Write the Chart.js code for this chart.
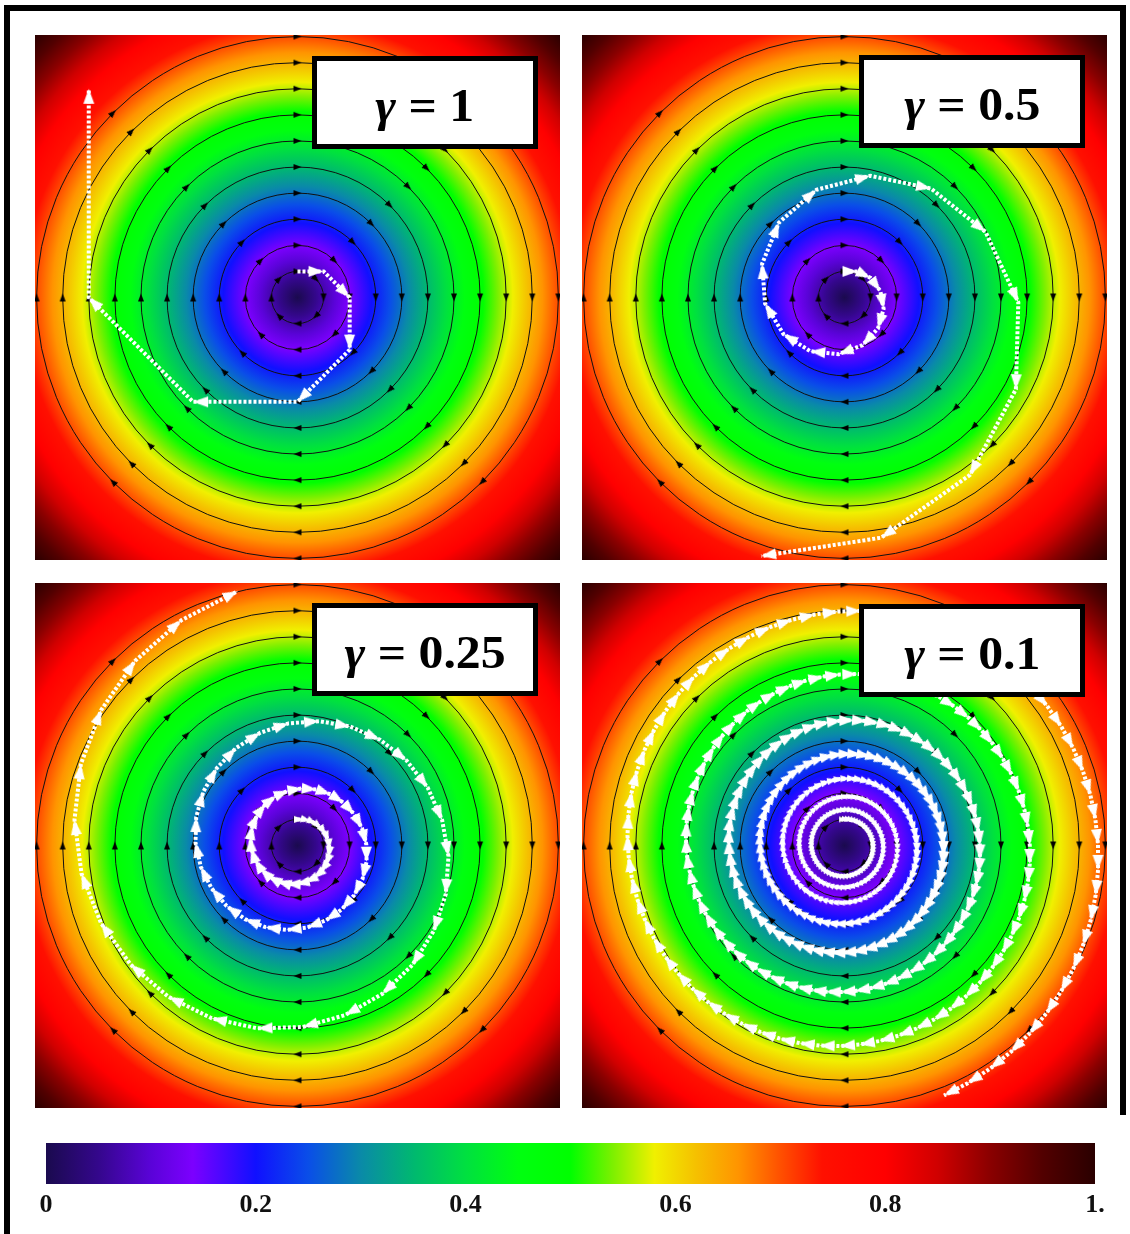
<!DOCTYPE html>
<html>
<head>
<meta charset="utf-8">
<script src="https://cdn.jsdelivr.net/npm/chart.js@4.4.1/dist/chart.umd.min.js"></script>
<style>
html,body{margin:0;padding:0;background:#fff;}
body{width:1130px;height:1234px;position:relative;overflow:hidden;}
.bar{position:absolute;background:#000;}
canvas.panel{position:absolute;}
#cb{position:absolute;left:0;top:1130px;}
.lbl{position:absolute;box-sizing:border-box;width:226px;height:93px;border:5px solid #000;background:#fff;
  display:flex;align-items:center;justify-content:center;padding-top:4px;
  font:bold 47px "Liberation Serif","Times New Roman",serif;color:#000;white-space:nowrap;}
.lbl .t{display:inline-block;transform:scaleX(1.06);}
</style>
</head>
<body>
<div class="bar" style="left:4px;top:5px;width:1122px;height:6px"></div>
<div class="bar" style="left:4px;top:5px;width:6px;height:1229px"></div>
<div class="bar" style="left:1120px;top:5px;width:6px;height:1110px"></div>

<canvas id="p1" class="panel" width="525" height="525" style="left:35px;top:35px"></canvas>
<canvas id="p2" class="panel" width="525" height="525" style="left:582px;top:35px"></canvas>
<canvas id="p3" class="panel" width="525" height="525" style="left:35px;top:583px"></canvas>
<canvas id="p4" class="panel" width="525" height="525" style="left:582px;top:583px"></canvas>
<canvas id="cb" width="1130" height="90"></canvas>

<div class="lbl" style="left:312px;top:56px"><span class="t"><i>γ</i> = 1</span></div>
<div class="lbl" style="left:859px;top:55px"><span class="t"><i>γ</i> = 0.5</span></div>
<div class="lbl" style="left:312px;top:603px"><span class="t"><i>γ</i> = 0.25</span></div>
<div class="lbl" style="left:859px;top:604px"><span class="t"><i>γ</i> = 0.1</span></div>

<script>
// ---------------- data ----------------
const axisLimit = 10.06;                       // half-width of each panel in field units
const streamRadii = [1, 2, 3, 4, 5, 6, 7, 8, 9, 10];
const streamArrowAngles = [0, 45, 90, 135, 180, 225, 270, 315];
const fieldRadius = [0, 14.23];                // distance from centre
const fieldValue  = [0, 1];                    // colour value at that distance
const cmapStops  = [0, 0.05, 0.1, 0.14, 0.2, 0.25, 0.3, 0.35, 0.4, 0.45, 0.5, 0.54, 0.58, 0.62, 0.66, 0.7, 0.74, 0.8, 0.85, 0.9, 0.95, 1];
const cmapColors = ['#1a0a4e','#34078c','#5a03d8','#7c00ff','#1010ff','#0a4ee8','#0a8aa8','#00b870','#00e040','#00ff10','#00ff00','#7cf000','#f0f000','#f5c000','#ff9400','#ff5000','#ff1000','#ff0000','#d00000','#8a0000','#520000','#2a0000'];
const cbTickValues = [0, 0.2, 0.4, 0.6, 0.8, 1];
const cbTickLabels = ['0', '0.2', '0.4', '0.6', '0.8', '1.'];

// trajectories: polar angle (deg) and radius of each step
const g1Angle  = [90, 45, 0, -45, -90, -135, -180, -225];
const g1Radius = [1, 1.4142, 2, 2.8284, 4, 5.6569, 8, 11.3137];

const g05Angle  = [90, 63.43, 36.87, 10.30, -16.26, -42.83, -69.39, -95.96, -122.52, -149.09, -175.65, -202.22, -228.78, -255.35, -281.91, -308.48, -335.04, -361.61, -388.17, -414.74, -441.30, -467.87];
const g05Radius = [1, 1.1180, 1.25, 1.3975, 1.5625, 1.7469, 1.9531, 2.1837, 2.4414, 2.7296, 3.0518, 3.4120, 3.8147, 4.2650, 4.7684, 5.3312, 5.9605, 6.6640, 7.4506, 8.3300, 9.3132, 10.4125];

const g025Angle = [90,75.96,61.93,47.89,33.86,19.82,5.78,-8.25,-22.29,-36.33,
-50.36,-64.40,-78.43,-92.47,-106.51,-120.54,-134.58,-148.62,-162.65,-176.69,
-190.72,-204.76,-218.80,-232.83,-246.87,-260.91,-274.94,-288.98,-303.01,-317.05,
-331.09,-345.12,-359.16,-373.19,-387.23,-401.27,-415.30,-429.34,-443.38,-457.41,
-471.45,-485.48,-499.52,-513.56,-527.59,-541.63,-555.67,-569.70,-583.74,-597.77,
-611.81,-625.85,-639.88,-653.92,-667.95,-681.99,-696.03,-710.06,-724.10,-738.14,
-752.17,-766.21,-780.24,-794.28,-808.32,-822.35,-836.39,-850.43,-864.46,-878.50,
-892.53,-906.57,-920.61,-934.64,-948.68,-962.72,-976.75];
const g025Radius = [1,1.0308,1.0625,1.0952,1.1289,1.1637,1.1995,1.2364,1.2744,1.3137,
1.3541,1.3958,1.4387,1.4830,1.5286,1.5757,1.6242,1.6742,1.7257,1.7788,
1.8335,1.8900,1.9481,2.0081,2.0699,2.1336,2.1993,2.2670,2.3367,2.4086,
2.4828,2.5592,2.6379,2.7191,2.8028,2.8891,2.9780,3.0696,3.1641,3.2615,
3.3619,3.4653,3.5720,3.6819,3.7952,3.9120,4.0324,4.1565,4.2845,4.4163,
4.5523,4.6924,4.8368,4.9856,5.1391,5.2972,5.4603,5.6283,5.8015,5.9801,
6.1641,6.3538,6.5494,6.7510,6.9587,7.1729,7.3937,7.6212,7.8558,8.0975,
8.3467,8.6036,8.8684,9.1413,9.4227,9.7127,10.0116];

const g01Angle = [90.0,84.3,78.6,72.9,67.2,61.4,55.7,50.0,44.3,38.6,
32.9,27.2,21.5,15.8,10.1,4.3,-1.4,-7.1,-12.8,-18.5,
-24.2,-29.9,-35.6,-41.3,-47.1,-52.8,-58.5,-64.2,-69.9,-75.6,
-81.3,-87.0,-92.7,-98.4,-104.2,-109.9,-115.6,-121.3,-127.0,-132.7,
-138.4,-144.1,-149.8,-155.6,-161.3,-167.0,-172.7,-178.4,-184.1,-189.8,
-195.5,-201.2,-207.0,-212.7,-218.4,-224.1,-229.8,-235.5,-241.2,-246.9,
-252.6,-258.3,-264.1,-269.8,-275.5,-281.2,-286.9,-292.6,-298.3,-304.0,
-309.7,-315.5,-321.2,-326.9,-332.6,-338.3,-344.0,-349.7,-355.4,-361.1,
-366.8,-372.6,-378.3,-384.0,-389.7,-395.4,-401.1,-406.8,-412.5,-418.2,
-424.0,-429.7,-435.4,-441.1,-446.8,-452.5,-458.2,-463.9,-469.6,-475.3,
-481.1,-486.8,-492.5,-498.2,-503.9,-509.6,-515.3,-521.0,-526.7,-532.5,
-538.2,-543.9,-549.6,-555.3,-561.0,-566.7,-572.4,-578.1,-583.8,-589.6,
-595.3,-601.0,-606.7,-612.4,-618.1,-623.8,-629.5,-635.2,-641.0,-646.7,
-652.4,-658.1,-663.8,-669.5,-675.2,-680.9,-686.6,-692.4,-698.1,-703.8,
-709.5,-715.2,-720.9,-726.6,-732.3,-738.0,-743.7,-749.5,-755.2,-760.9,
-766.6,-772.3,-778.0,-783.7,-789.4,-795.1,-800.9,-806.6,-812.3,-818.0,
-823.7,-829.4,-835.1,-840.8,-846.5,-852.2,-858.0,-863.7,-869.4,-875.1,
-880.8,-886.5,-892.2,-897.9,-903.6,-909.4,-915.1,-920.8,-926.5,-932.2,
-937.9,-943.6,-949.3,-955.0,-960.7,-966.5,-972.2,-977.9,-983.6,-989.3,
-995.0,-1000.7,-1006.4,-1012.1,-1017.9,-1023.6,-1029.3,-1035.0,-1040.7,-1046.4,
-1052.1,-1057.8,-1063.5,-1069.2,-1075.0,-1080.7,-1086.4,-1092.1,-1097.8,-1103.5,
-1109.2,-1114.9,-1120.6,-1126.4,-1132.1,-1137.8,-1143.5,-1149.2,-1154.9,-1160.6,
-1166.3,-1172.0,-1177.8,-1183.5,-1189.2,-1194.9,-1200.6,-1206.3,-1212.0,-1217.7,
-1223.4,-1229.1,-1234.9,-1240.6,-1246.3,-1252.0,-1257.7,-1263.4,-1269.1,-1274.8,
-1280.5,-1286.3,-1292.0,-1297.7,-1303.4,-1309.1,-1314.8,-1320.5,-1326.2,-1331.9,
-1337.6,-1343.4,-1349.1,-1354.8,-1360.5,-1366.2,-1371.9,-1377.6,-1383.3,-1389.0,
-1394.8,-1400.5,-1406.2,-1411.9,-1417.6,-1423.3,-1429.0,-1434.7,-1440.4,-1446.1,
-1451.9,-1457.6,-1463.3,-1469.0,-1474.7,-1480.4,-1486.1,-1491.8,-1497.5,-1503.3,
-1509.0,-1514.7,-1520.4,-1526.1,-1531.8,-1537.5,-1543.2,-1548.9,-1554.6,-1560.4,
-1566.1,-1571.8,-1577.5,-1583.2,-1588.9,-1594.6,-1600.3,-1606.0,-1611.8,-1617.5,
-1623.2,-1628.9,-1634.6,-1640.3,-1646.0,-1651.7,-1657.4,-1663.2,-1668.9,-1674.6,
-1680.3,-1686.0,-1691.7,-1697.4,-1703.1,-1708.8,-1714.5,-1720.3,-1726.0,-1731.7,
-1737.4,-1743.1,-1748.8,-1754.5,-1760.2,-1765.9,-1771.7,-1777.4,-1783.1,-1788.8,
-1794.5,-1800.2,-1805.9,-1811.6,-1817.3,-1823.0,-1828.8,-1834.5,-1840.2,-1845.9,
-1851.6,-1857.3,-1863.0,-1868.7,-1874.4,-1880.2,-1885.9,-1891.6,-1897.3,-1903.0,
-1908.7,-1914.4,-1920.1,-1925.8,-1931.5,-1937.3,-1943.0,-1948.7,-1954.4,-1960.1,
-1965.8,-1971.5,-1977.2,-1982.9,-1988.7,-1994.4,-2000.1,-2005.8,-2011.5,-2017.2,
-2022.9,-2028.6,-2034.3,-2040.1,-2045.8,-2051.5,-2057.2,-2062.9,-2068.6,-2074.3,
-2080.0,-2085.7,-2091.4,-2097.2,-2102.9,-2108.6,-2114.3,-2120.0,-2125.7,-2131.4,
-2137.1,-2142.8,-2148.6,-2154.3,-2160.0,-2165.7,-2171.4,-2177.1,-2182.8,-2188.5,
-2194.2,-2199.9,-2205.7,-2211.4,-2217.1,-2222.8,-2228.5,-2234.2,-2239.9,-2245.6,
-2251.3,-2257.1,-2262.8,-2268.5,-2274.2,-2279.9,-2285.6,-2291.3,-2297.0,-2302.7,
-2308.4,-2314.2,-2319.9,-2325.6,-2331.3,-2337.0,-2342.7,-2348.4,-2354.1,-2359.8,
-2365.6,-2371.3,-2377.0,-2382.7,-2388.4,-2394.1,-2399.8,-2405.5,-2411.2,-2416.9,
-2422.7,-2428.4,-2434.1,-2439.8,-2445.5,-2451.2,-2456.9,-2462.6,-2468.3,-2474.1,
-2479.8,-2485.5,-2491.2,-2496.9,-2502.6,-2508.3,-2514.0,-2519.7,-2525.5,-2531.2,
-2536.9,-2542.6,-2548.3,-2554.0,-2559.7,-2565.4,-2571.1,-2576.8,-2582.6,-2588.3];
const g01Radius = [1.000,1.005,1.010,1.015,1.020,1.025,1.030,1.035,1.041,1.046,
1.051,1.056,1.062,1.067,1.072,1.077,1.083,1.088,1.094,1.099,
1.105,1.110,1.116,1.121,1.127,1.132,1.138,1.144,1.149,1.155,
1.161,1.167,1.173,1.178,1.184,1.190,1.196,1.202,1.208,1.214,
1.220,1.226,1.232,1.238,1.245,1.251,1.257,1.263,1.270,1.276,
1.282,1.289,1.295,1.302,1.308,1.315,1.321,1.328,1.335,1.341,
1.348,1.355,1.361,1.368,1.375,1.382,1.389,1.396,1.403,1.410,
1.417,1.424,1.431,1.438,1.445,1.452,1.460,1.467,1.474,1.481,
1.489,1.496,1.504,1.511,1.519,1.526,1.534,1.542,1.549,1.557,
1.565,1.573,1.580,1.588,1.596,1.604,1.612,1.620,1.628,1.636,
1.645,1.653,1.661,1.669,1.678,1.686,1.694,1.703,1.711,1.720,
1.729,1.737,1.746,1.755,1.763,1.772,1.781,1.790,1.799,1.808,
1.817,1.826,1.835,1.844,1.853,1.862,1.872,1.881,1.890,1.900,
1.909,1.919,1.928,1.938,1.948,1.957,1.967,1.977,1.987,1.997,
2.007,2.017,2.027,2.037,2.047,2.057,2.068,2.078,2.088,2.099,
2.109,2.120,2.130,2.141,2.152,2.162,2.173,2.184,2.195,2.206,
2.217,2.228,2.239,2.250,2.261,2.272,2.284,2.295,2.307,2.318,
2.330,2.341,2.353,2.365,2.377,2.388,2.400,2.412,2.424,2.436,
2.449,2.461,2.473,2.485,2.498,2.510,2.523,2.535,2.548,2.561,
2.574,2.586,2.599,2.612,2.625,2.638,2.652,2.665,2.678,2.691,
2.705,2.718,2.732,2.745,2.759,2.773,2.787,2.801,2.815,2.829,
2.843,2.857,2.871,2.886,2.900,2.914,2.929,2.944,2.958,2.973,
2.988,3.003,3.018,3.033,3.048,3.063,3.078,3.094,3.109,3.125,
3.140,3.156,3.172,3.187,3.203,3.219,3.235,3.252,3.268,3.284,
3.300,3.317,3.333,3.350,3.367,3.383,3.400,3.417,3.434,3.452,
3.469,3.486,3.503,3.521,3.538,3.556,3.574,3.592,3.610,3.628,
3.646,3.664,3.682,3.700,3.719,3.737,3.756,3.775,3.794,3.813,
3.832,3.851,3.870,3.889,3.909,3.928,3.948,3.967,3.987,4.007,
4.027,4.047,4.067,4.088,4.108,4.128,4.149,4.170,4.191,4.211,
4.233,4.254,4.275,4.296,4.318,4.339,4.361,4.383,4.404,4.426,
4.448,4.471,4.493,4.515,4.538,4.560,4.583,4.606,4.629,4.652,
4.675,4.699,4.722,4.746,4.769,4.793,4.817,4.841,4.865,4.889,
4.914,4.938,4.963,4.988,5.013,5.038,5.063,5.088,5.113,5.139,
5.164,5.190,5.216,5.242,5.268,5.295,5.321,5.348,5.374,5.401,
5.428,5.455,5.482,5.510,5.537,5.565,5.592,5.620,5.648,5.676,
5.705,5.733,5.762,5.791,5.819,5.848,5.878,5.907,5.936,5.966,
5.996,6.026,6.056,6.086,6.116,6.147,6.177,6.208,6.239,6.270,
6.302,6.333,6.365,6.396,6.428,6.460,6.493,6.525,6.558,6.590,
6.623,6.656,6.689,6.723,6.756,6.790,6.824,6.858,6.892,6.926,
6.961,6.996,7.031,7.066,7.101,7.136,7.172,7.208,7.244,7.280,
7.316,7.352,7.389,7.426,7.463,7.500,7.538,7.575,7.613,7.651,
7.689,7.727,7.766,7.805,7.844,7.883,7.922,7.962,8.001,8.041,
8.081,8.122,8.162,8.203,8.244,8.285,8.326,8.368,8.410,8.451,
8.494,8.536,8.579,8.621,8.664,8.708,8.751,8.795,8.839,8.883,
8.927,8.971,9.016,9.061,9.106,9.152,9.197,9.243,9.289,9.336,
9.382,9.429,9.476,9.523,9.571,9.619,9.667,9.715,9.763,9.812,
9.861,9.910,9.960,10.009,10.059,10.109,10.160,10.210,10.261,10.312];

// ---------------- helpers ----------------
function toPoints(angles, radii) {
  const n = Math.min(angles.length, radii.length), pts = [];
  for (let i = 0; i < n; i++) {
    const t = angles[i] * Math.PI / 180;
    pts.push({x: radii[i] * Math.cos(t), y: radii[i] * Math.sin(t), rot: 0, step: 0});
  }
  for (let i = 1; i < n; i++) {
    const dx = pts[i].x - pts[i-1].x, dy = pts[i].y - pts[i-1].y;
    pts[i].rot = Math.atan2(dx, dy) * 180 / Math.PI;
    pts[i].step = Math.hypot(dx, dy);
  }
  return pts;
}
function interp(v, xs, ys) {
  for (let i = 1; i < xs.length; i++) {
    if (v <= xs[i]) { const f = (v - xs[i-1]) / (xs[i] - xs[i-1]); return ys[i-1] + f * (ys[i] - ys[i-1]); }
  }
  return ys[ys.length - 1];
}
const arrowCache = {};
function arrowImg(L, W, color, tipAtCentre) {
  const key = L.toFixed(1) + '|' + W.toFixed(1) + '|' + color + '|' + tipAtCentre;
  if (arrowCache[key]) return arrowCache[key];
  const c = document.createElement('canvas');
  const w = Math.ceil(W) + 2, h = tipAtCentre ? 2 * Math.ceil(L) + 2 : Math.ceil(L) + 2;
  c.width = w; c.height = h;
  const g = c.getContext('2d');
  g.fillStyle = color;
  g.beginPath();
  if (tipAtCentre) {
    g.moveTo(w / 2, h / 2); g.lineTo(w / 2 + W / 2, h / 2 + L); g.lineTo(w / 2 - W / 2, h / 2 + L);
  } else {
    g.moveTo(w / 2, h / 2 - L / 2); g.lineTo(w / 2 + W / 2, h / 2 + L / 2); g.lineTo(w / 2 - W / 2, h / 2 + L / 2);
  }
  g.closePath(); g.fill();
  arrowCache[key] = c;
  return c;
}

const streamPts = [];
streamRadii.forEach(r => streamArrowAngles.forEach(a => {
  const t = a * Math.PI / 180;
  streamPts.push({x: r * Math.cos(t), y: r * Math.sin(t), rot: 180 - a});
}));

const fieldPlugin = {
  id: 'field',
  beforeDatasetsDraw(chart) {
    const {ctx, chartArea: a} = chart, xs = chart.scales.x, ys = chart.scales.y;
    const cx = xs.getPixelForValue(0), cy = ys.getPixelForValue(0);
    const rMax = fieldRadius[fieldRadius.length - 1];
    const R = xs.getPixelForValue(rMax) - cx;
    const g = ctx.createRadialGradient(cx, cy, 0, cx, cy, R);
    cmapStops.forEach((v, i) => g.addColorStop(Math.min(1, interp(v, fieldValue, fieldRadius) / rMax), cmapColors[i]));
    ctx.save();
    ctx.fillStyle = g;
    ctx.fillRect(a.left, a.top, a.right - a.left, a.bottom - a.top);
    ctx.strokeStyle = '#111';
    ctx.lineWidth = 1;
    streamRadii.forEach(r => {
      ctx.beginPath();
      ctx.arc(cx, cy, xs.getPixelForValue(r) - cx, 0, Math.PI * 2);
      ctx.stroke();
    });
    ctx.restore();
  }
};

function makePanel(id, pts) {
  new Chart(document.getElementById(id), {
    type: 'scatter',
    data: {datasets: [
      {
        data: pts, showLine: true, order: 0, clip: false,
        borderColor: '#ffffff', borderWidth: 4, borderDash: [3, 2], tension: 0,
        pointRadius: c => (c.dataIndex === 0 ? 0 : 5),
        pointStyle: c => {
          const p = c.raw; if (!p) return 'circle';
          const sx = c.chart.scales.x;
          const ppu = sx.getPixelForValue(1) - sx.getPixelForValue(0);
          const L = Math.max(8, Math.min(15, p.step * ppu * 1.5));
          return arrowImg(Math.round(L * 2) / 2, Math.round(L * 1.44) / 2, '#ffffff', true);
        },
        pointRotation: c => (c.raw ? c.raw.rot : 0)
      },
      {
        data: streamPts, showLine: false, order: 1, clip: false,
        pointRadius: 4,
        pointStyle: arrowImg(8, 6, '#000000', false),
        pointRotation: c => (c.raw ? c.raw.rot : 0)
      }
    ]},
    options: {
      responsive: false, animation: false, events: [],
      layout: {padding: 0, autoPadding: false},
      plugins: {legend: {display: false}, tooltip: {enabled: false}},
      scales: {
        x: {type: 'linear', display: false, min: -axisLimit, max: axisLimit},
        y: {type: 'linear', display: false, min: -axisLimit, max: axisLimit}
      }
    },
    plugins: [fieldPlugin]
  });
}

makePanel('p1', toPoints(g1Angle, g1Radius));
makePanel('p2', toPoints(g05Angle, g05Radius));
makePanel('p3', toPoints(g025Angle, g025Radius));
makePanel('p4', toPoints(g01Angle, g01Radius));

// colour bar
new Chart(document.getElementById('cb'), {
  type: 'bar',
  data: {labels: ['value'], datasets: [{
    data: [[0, 1]], borderWidth: 0, barPercentage: 1, categoryPercentage: 1,
    backgroundColor: c => {
      const a = c.chart.chartArea; if (!a) return '#000';
      const g = c.chart.ctx.createLinearGradient(a.left, 0, a.right, 0);
      cmapStops.forEach((s, i) => g.addColorStop(s, cmapColors[i]));
      return g;
    }
  }]},
  options: {
    indexAxis: 'y', responsive: false, animation: false, events: [],
    layout: {padding: {left: 46, right: 35, top: 13, bottom: 0}, autoPadding: false},
    plugins: {legend: {display: false}, tooltip: {enabled: false}},
    scales: {
      x: {
        type: 'linear', min: 0, max: 1,
        afterBuildTicks: s => { s.ticks = cbTickValues.map(v => ({value: v})); },
        afterFit: s => { s.height = 36; },
        grid: {display: false, drawTicks: false},
        border: {display: false},
        ticks: {
          autoSkip: false, maxRotation: 0, padding: 6, color: '#111',
          font: {family: '"Liberation Serif","Times New Roman",serif', size: 26, weight: 'bold'},
          callback: (v, i) => cbTickLabels[i]
        }
      },
      y: {display: false}
    }
  }
});
</script>
</body>
</html>
